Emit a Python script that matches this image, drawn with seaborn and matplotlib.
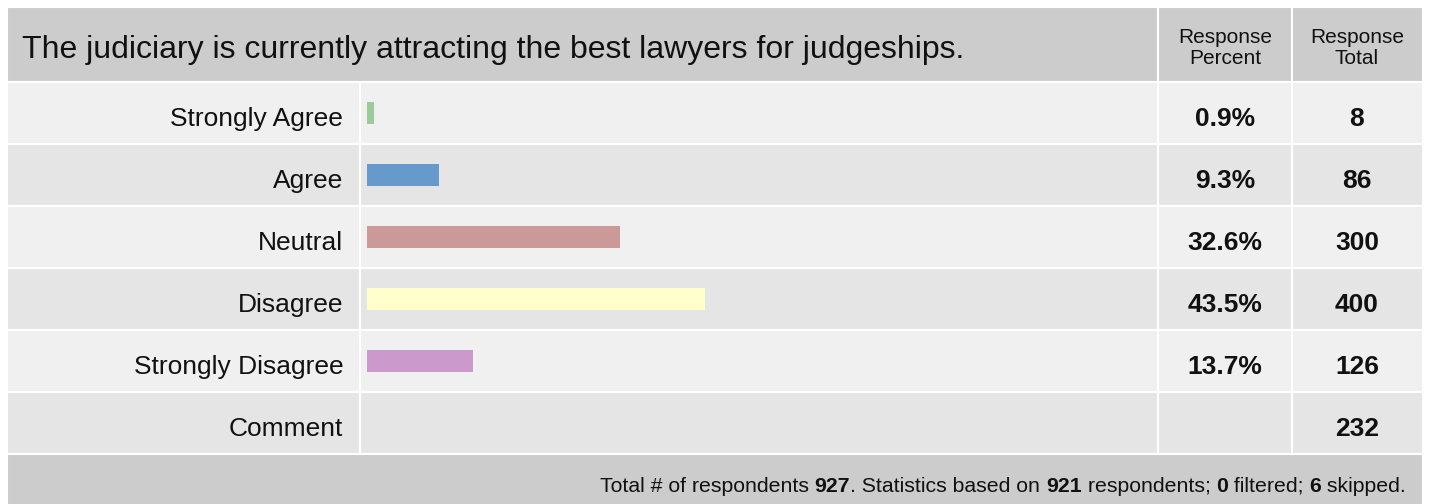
import matplotlib
matplotlib.use("Agg")
import matplotlib.pyplot as plt
import seaborn as sns
from matplotlib.patches import Rectangle
from matplotlib.transforms import blended_transform_factory, ScaledTranslation
from matplotlib.offsetbox import TextArea, HPacker, AnnotationBbox

# Dados da pesquisa
question = "The judiciary is currently attracting the best lawyers for judgeships."
answers = ["Strongly Agree", "Agree", "Neutral", "Disagree", "Strongly Disagree"]
percents = [0.9, 9.3, 32.6, 43.5, 13.7]
totals = [8, 86, 300, 400, 126]
comment_total = 232
bar_colors = ["#99CC99", "#6699CC", "#CC9999", "#FFFFCC", "#CC99CC"]
footer_parts = [("Total # of respondents ", "normal"), ("927", "bold"),
                (". Statistics based on ", "normal"), ("921", "bold"),
                (" respondents; ", "normal"), ("0", "bold"),
                (" filtered; ", "normal"), ("6", "bold"), (" skipped.", "normal")]

sns.set_theme(style="white")
plt.rcParams['font.family'] = ['Liberation Sans', 'DejaVu Sans']

W, H = 1429, 504
fig = plt.figure(figsize=(W / 100, H / 100), dpi=100)
fig.patch.set_facecolor("white")


def fx(x):
    return x / W


def fy(y):
    return 1 - y / H


def cell(x0, y0, x1, y1, color):
    fig.patches.append(Rectangle((fx(x0), fy(y1)), fx(x1) - fx(x0), fy(y0) - fy(y1),
                                 transform=fig.transFigure, facecolor=color,
                                 edgecolor="white", linewidth=1.5, zorder=-1))


cols = [7, 360, 1158, 1292, 1423]
rows = [82, 144, 206, 268, 330, 392, 454]

# Cabeçalho
cell(7, 7, 1158, 82, "#CCCCCC")
cell(1158, 7, 1292, 82, "#CCCCCC")
cell(1292, 7, 1423, 82, "#CCCCCC")
# Linhas da tabela
for i in range(6):
    c = "#F0F0F0" if i % 2 == 0 else "#E5E5E5"
    for j in range(4):
        cell(cols[j], rows[i], cols[j + 1], rows[i + 1], c)
# Rodapé
cell(7, 454, 1423, 510, "#CCCCCC")

fig.text(fx(22), fy(50), question, fontsize=23, ha="left", va="center", color="#111111")
fig.text(fx(1225), fy(48), "Response\nPercent", fontsize=15, ha="center", va="center",
         linespacing=1.12, color="#111111")
fig.text(fx(1357), fy(48), "Response\nTotal", fontsize=15, ha="center", va="center",
         linespacing=1.12, color="#111111")

# Barras
ax = fig.add_axes([fx(360), fy(454), fx(1158) - fx(360), fy(82) - fy(454)])
ax.set_zorder(2)
ax.patch.set_alpha(0)
sns.barplot(x=percents, y=answers, hue=answers, palette=bar_colors, orient="h",
            width=0.34, ax=ax, legend=False, saturation=1, linewidth=0)
ax.set_xlim(-0.9, 101.8)
ax.set_ylim(5.5, -0.5)
ax.set_yticks(range(6), answers + ["Comment"])
ax.tick_params(axis="y", length=0, pad=12, labelsize=19, labelcolor="#111111")
ax.set_xticks([])
ax.set_xlabel("")
ax.set_ylabel("")
for s in ax.spines.values():
    s.set_visible(False)

# desloca o texto para a linha de base (texto ligeiramente abaixo do centro)
shift = ScaledTranslation(0, -0.13, fig.dpi_scale_trans)
for lab in ax.get_yticklabels():
    lab.set_va("baseline")
    lab.set_transform(lab.get_transform() + shift)

shift_v = ScaledTranslation(0, -0.125, fig.dpi_scale_trans)
tr = blended_transform_factory(fig.transFigure, ax.transData) + shift_v
for i, (p, t) in enumerate(zip(percents, totals)):
    ax.text(fx(1225), i, f"{p}%", transform=tr, ha="center", va="baseline",
            fontsize=19, fontweight="bold", color="#111111")
    ax.text(fx(1357), i, str(t), transform=tr, ha="center", va="baseline",
            fontsize=19, fontweight="bold", color="#111111")
ax.text(fx(1357), 5, str(comment_total), transform=tr, ha="center", va="baseline",
        fontsize=19, fontweight="bold", color="#111111")

# Rodapé com números em negrito
pieces = [TextArea(t, textprops=dict(fontsize=15.3, fontweight=w, color="#111111"))
          for t, w in footer_parts]
box = HPacker(children=pieces, pad=0, sep=0, align="baseline")
ab = AnnotationBbox(box, (fx(1406), fy(486)), xycoords="figure fraction",
                    box_alignment=(1, 0.5), frameon=False, pad=0)
fig.add_artist(ab)

fig.savefig("out.png", dpi=100)
